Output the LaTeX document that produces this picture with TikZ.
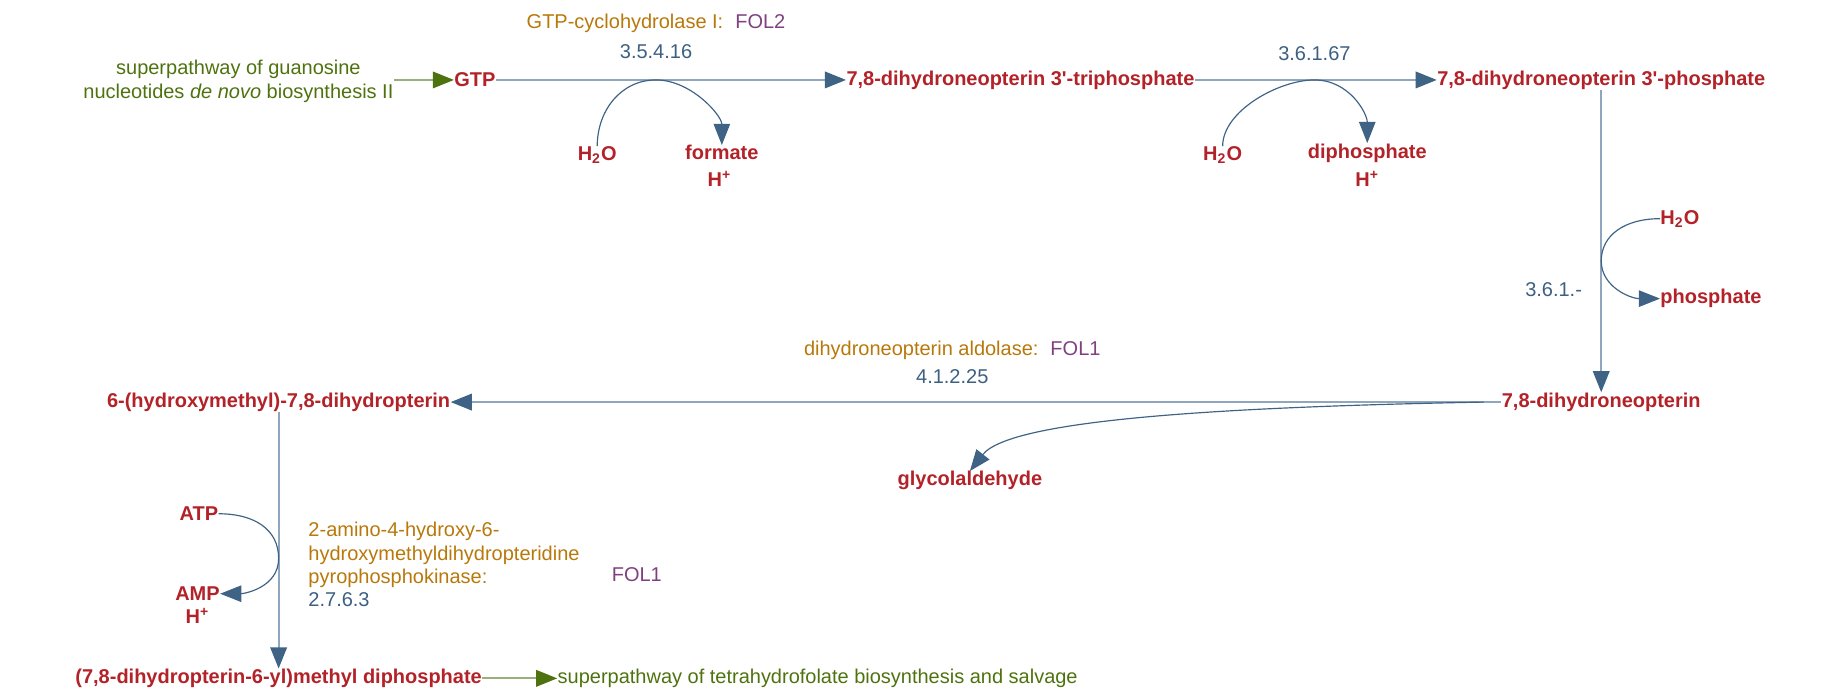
\documentclass[tikz,border=0pt]{standalone}
\usepackage{fontspec}
\setmainfont{Liberation Sans}
\usetikzlibrary{arrows.meta}
\definecolor{cpd}{RGB}{178,34,40}
\definecolor{enz}{RGB}{184,120,10}
\definecolor{gene}{RGB}{128,64,128}
\definecolor{ec}{RGB}{60,95,130}
\definecolor{lne}{RGB}{143,166,188}
\definecolor{tip}{RGB}{62,99,132}
\definecolor{pw}{RGB}{78,115,14}
\definecolor{pwl}{RGB}{154,176,122}
\begin{document}
\begin{tikzpicture}[x=0.5pt,y=-0.5pt,
  every node/.style={inner sep=0pt,font=\fontsize{8.5}{10}\selectfont},
  cpd/.style={text=cpd,font=\fontsize{8.5}{10}\selectfont\bfseries},
  ec/.style={text=ec},
  pw/.style={text=pw,align=center},
  main/.style={draw=lne,line width=0.9pt,-{Triangle[length=9pt,width=7pt,color=tip]}},
  side/.style={draw=tip,line width=0.5pt,-{Triangle[length=9pt,width=7pt,color=tip]}},
  pwa/.style={draw=pwl,line width=0.9pt,-{Triangle[length=9pt,width=7pt,color=pw]}}]
\useasboundingbox (0,0) rectangle (1560,590);
% pathway links
\node[pw,anchor=east] (pin) at (335,69) {superpathway of guanosine\\nucleotides \textit{de novo} biosynthesis II};
\node[pw,anchor=west] (pout) at (474,577) {superpathway of tetrahydrofolate biosynthesis and salvage};
% compounds
\node[cpd] (gtp) at (404,68) {GTP};
\node[cpd] (tri) at (868,68) {7,8-dihydroneopterin 3\textquotesingle-triphosphate};
\node[cpd] (mp) at (1362,68) {7,8-dihydroneopterin 3\textquotesingle-phosphate};
\node[cpd] (dhn) at (1362,342) {7,8-dihydroneopterin};
\node[cpd] (hmd) at (237,342) {6-(hydroxymethyl)-7,8-dihydropterin};
\node[cpd] (dpp) at (237,577) {(7,8-dihydropterin-6-yl)methyl diphosphate};
% side compounds
\node[cpd] (w1) at (508,132) {H\textsubscript{2}O};
\node[cpd] (fo) at (614,130) {formate};
\node[cpd] (hp1) at (612,152) {H\textsuperscript{+}};
\node[cpd] (w2) at (1040,132) {H\textsubscript{2}O};
\node[cpd] (di) at (1163,130) {diphosphate};
\node[cpd] (hp2) at (1163,152) {H\textsuperscript{+}};
\node[cpd,anchor=west] (w3) at (1412,186) {H\textsubscript{2}O};
\node[cpd,anchor=west] (ph) at (1412,254) {phosphate};
\node[cpd] (gly) at (825,409) {glycolaldehyde};
\node[cpd,anchor=east] (atp) at (186,437) {ATP};
\node[cpd] (amp) at (168,505) {AMP};
\node[cpd] (hp3) at (168,524) {H\textsuperscript{+}};
% enzyme labels
\node (e1) at (558,20) {\color{enz}GTP-cyclohydrolase I:\hspace{0.6em}\color{gene}FOL2};
\node[ec] (c1) at (558,44) {3.5.4.16};
\node[ec] (c2) at (1118,46) {3.6.1.67};
\node[ec,anchor=east] (c3) at (1346,246) {3.6.1.-};
\node (e4) at (810,298) {\color{enz}dihydroneopterin aldolase:\hspace{0.6em}\color{gene}FOL1};
\node[ec] (c4) at (810,320) {4.1.2.25};
\node[text=enz,anchor=north west,align=left] (e5) at (262,444) {2-amino-4-hydroxy-6-\\hydroxymethyldihydropteridine\\pyrophosphokinase:};
\node[text=gene,anchor=west] (g5) at (520,489) {FOL1};
\node[ec,anchor=west] (c5) at (262,510) {2.7.6.3};
% main reactions
\draw[pwa] (pin.east |- gtp) -- (gtp.west);
\draw[pwa] (dpp.east) -- (pout.west);
\draw[main] (gtp.east) -- (tri.west);
\draw[main] (tri.east) -- (mp.west);
\draw[main] (mp.south) -- (dhn.north);
\draw[main] (dhn.west) -- (hmd.east);
\draw[main] (hmd.south) -- (dpp.north);
% side reactions
\coordinate (m1) at (558,68);
\draw[side] (w1.north) .. controls +(0,-30) and +(-30,0) .. (m1) .. controls +(30,0) and +(0,-25) .. (fo.north);
\coordinate (m2) at (1118,68);
\draw[side] (w2.north) .. controls +(0,-30) and +(-30,0) .. (m2) .. controls +(30,0) and +(0,-25) .. (di.north);
\coordinate (m3) at (1362,222);
\draw[side] (w3.west) .. controls +(-30,0) and +(0,-22) .. (m3) .. controls +(0,22) and +(-25,0) .. (ph.west);
\coordinate (m4) at (1262,342);
\draw[side] (m4) .. controls (1050,346) and (860,356) .. (gly.north);
\coordinate (m5) at (237,475);
\draw[side] (atp.east) .. controls +(30,0) and +(0,-25) .. (m5) .. controls +(0,25) and +(20,0) .. (amp.east);
\end{tikzpicture}
\end{document}
